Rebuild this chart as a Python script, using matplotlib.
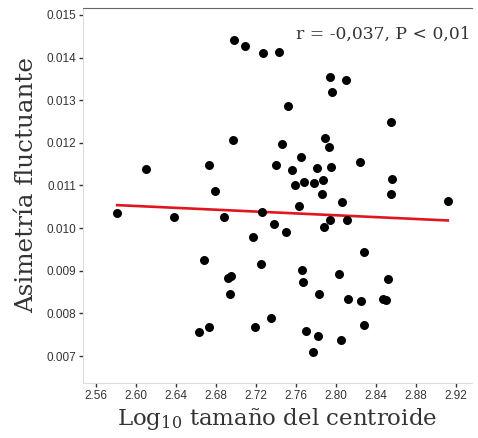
import numpy as np
import matplotlib
matplotlib.use("Agg")
import matplotlib.pyplot as plt

plt.rcParams['mathtext.fontset'] = 'dejavuserif'

# log10 centroid size (x) and fluctuating asymmetry (y)
log_centroid = [2.581, 2.610, 2.638, 2.663, 2.673, 2.668, 2.673, 2.679, 2.688,
                2.692, 2.695, 2.694, 2.697, 2.698, 2.709, 2.727, 2.743, 2.717,
                2.726, 2.725, 2.719, 2.735, 2.738, 2.750, 2.740, 2.746, 2.752,
                2.756, 2.759, 2.763, 2.765, 2.768, 2.778, 2.766, 2.767, 2.770,
                2.781, 2.787, 2.786, 2.783, 2.782, 2.777, 2.789, 2.793, 2.794,
                2.796, 2.794, 2.788, 2.795, 2.806, 2.803, 2.805, 2.810, 2.811,
                2.812, 2.824, 2.828, 2.825, 2.828, 2.847, 2.850, 2.852, 2.855,
                2.856, 2.855, 2.912]
asimetria = [0.010355, 0.011387, 0.010261, 0.007563, 0.007680, 0.009252,
             0.011481, 0.010871, 0.010261, 0.008830, 0.008877, 0.008455,
             0.012067, 0.014413, 0.014273, 0.014109, 0.014132, 0.009792,
             0.010378, 0.009158, 0.007680, 0.007891, 0.010097, 0.009909,
             0.011481, 0.011974, 0.012865, 0.011364, 0.011012, 0.010519,
             0.011669, 0.011082, 0.011059, 0.009018, 0.008736, 0.007587,
             0.011411, 0.011129, 0.010801, 0.008455, 0.007469, 0.007094,
             0.012114, 0.011903, 0.013545, 0.013194, 0.010191, 0.010026,
             0.011434, 0.010613, 0.008924, 0.007375, 0.013475, 0.010191,
             0.008337, 0.011551, 0.009440, 0.008290, 0.007727, 0.008337,
             0.008314, 0.008806, 0.012490, 0.011153, 0.010801, 0.010636]

x_ticks = [2.56, 2.60, 2.64, 2.68, 2.72, 2.76, 2.80, 2.84, 2.88, 2.92]
y_ticks = [0.007, 0.008, 0.009, 0.010, 0.011, 0.012, 0.013, 0.014, 0.015]

x = np.array(log_centroid)
y = np.array(asimetria)

fig = plt.figure(figsize=(4.78, 4.38), dpi=100)
ax = fig.add_axes([0.174, 0.1256, 0.813, 0.856])

ax.scatter(x, y, s=42, color='black', zorder=3, linewidths=0)

# regression line over the data range
slope, intercept = np.polyfit(x, y, 1)
xf = np.array([x.min(), x.max()])
ax.plot(xf, intercept + slope * xf, color='#e0161f', lw=1.9, zorder=2)

ax.set_xlim(2.547, 2.936)
ax.set_ylim(0.00637, 0.01516)
ax.set_xticks(x_ticks)
ax.set_xticklabels(['%.2f' % v for v in x_ticks])
ax.set_yticks(y_ticks)
ax.set_yticklabels(['%.3f' % v for v in y_ticks])

ax.tick_params(axis='both', direction='out', length=3, width=1, color='#333333',
               labelsize=8.5, labelcolor='#333333', pad=2)
for lab in ax.get_xticklabels() + ax.get_yticklabels():
    lab.set_family('Liberation Sans')

ax.spines['right'].set_visible(False)
ax.spines['top'].set_color('#666666')
ax.spines['left'].set_color('#dddddd')
ax.spines['bottom'].set_color('#dddddd')

ax.set_xlabel('Log$_{10}$ tamaño del centroide', family='DejaVu Serif',
              fontsize=16.5, color='#333333', labelpad=3)
ax.set_ylabel('Asimetría fluctuante', family='DejaVu Serif',
              fontsize=17.7, color='#333333')
ax.yaxis.set_label_coords(-0.117, 0.528)

ax.text(0.997, 0.952, 'r = -0,037, P < 0,01', transform=ax.transAxes,
        ha='right', va='top', family='DejaVu Serif', fontsize=12.3,
        color='#333333')

fig.savefig('out.png', dpi=100)
